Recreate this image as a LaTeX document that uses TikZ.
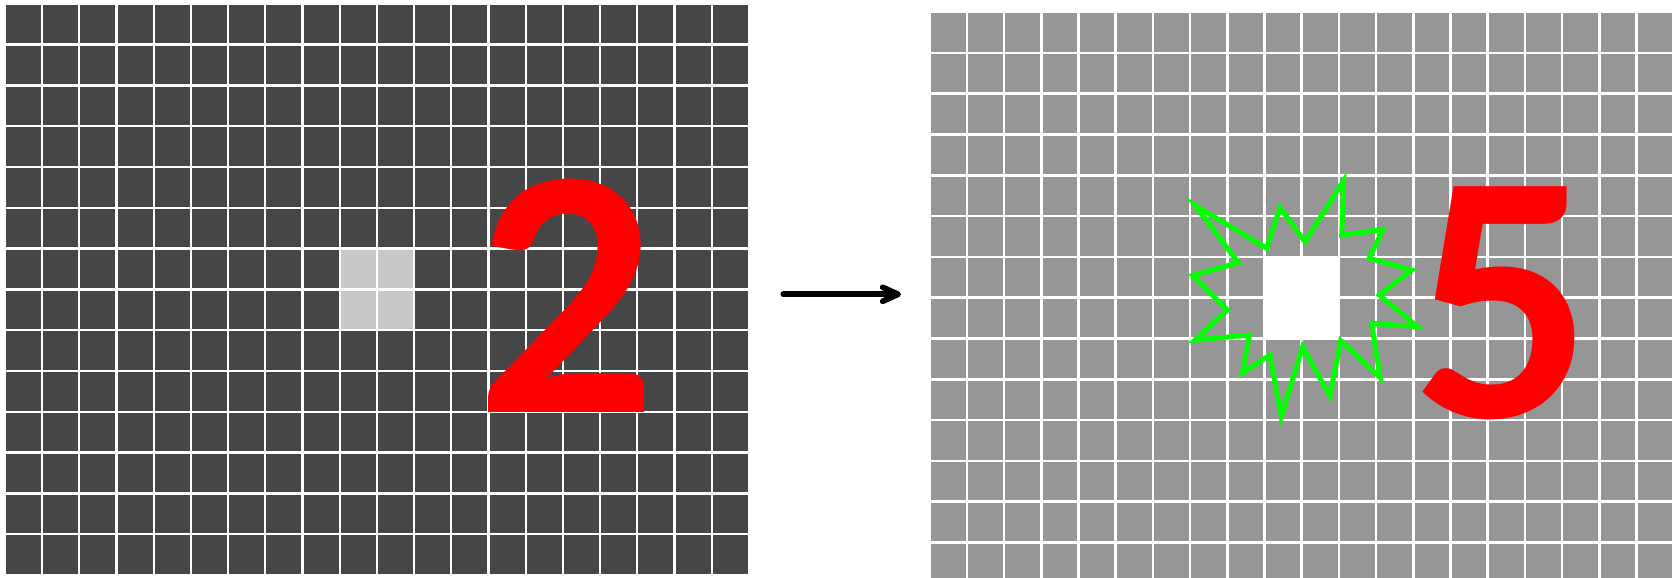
\documentclass[tikz,border=0pt]{standalone}
\usepackage{fontspec}
\setmainfont{Carlito}
\newfontfamily\digitfont{Carlito}[UprightFont={* Bold}]
\usetikzlibrary{arrows.meta}
\definecolor{darkcell}{HTML}{464646}
\definecolor{lightcell}{HTML}{C8C8C8}
\definecolor{midcell}{HTML}{969696}
\definecolor{stargreen}{HTML}{00FF00}
\definecolor{digitred}{HTML}{FF0000}
\begin{document}
\begin{tikzpicture}[x=1pt,y=-1pt,
  darkbox/.style={fill=darkcell},
  lightbox/.style={fill=lightcell},
  midbox/.style={fill=midcell},
  digit/.style={text=digitred, inner sep=0pt, anchor=base,
    font=\digitfont\fontsize{356}{356}\selectfont},
  starline/.style={draw=stargreen, line width=5pt, line join=miter, miter limit=10},
  arrowline/.style={draw=black, line width=5.7pt, line cap=round,
    -{Straight Barb[length=15.5pt, width=14pt, round]}}]
\useasboundingbox (0,0) rectangle (1679,578);
\fill[white] (0,0) rectangle (1679,578);
% left grid
\foreach \i in {0,...,19}{
  \foreach \j in {0,...,13}{
    \fill[darkbox] ({6+37.2*\i},{5+40.8*\j}) rectangle ++(34.9,38.3);
  }
}
\foreach \i in {9,10}{
  \foreach \j in {6,7}{
    \fill[lightbox] ({6+37.2*\i},{5+40.8*\j}) rectangle ++(34.9,38.3);
  }
}
% right grid
\begin{scope}
  \clip (0,0) rectangle (1679,578);
  \foreach \i in {0,...,19}{
    \foreach \j in {0,...,13}{
      \fill[midbox] ({931+37.2*\i},{13.3+40.8*\j}) rectangle ++(34.6,38.3);
    }
  }
\end{scope}
\fill[white] (1263.5,256) rectangle (1339.5,339.5);
% star
\draw[starline] (1195.3,205.6) -- (1266.7,248.3) -- (1280,207.5) -- (1305,241.7)
  -- (1343.7,180.6) -- (1341.7,235) -- (1383,229.5) -- (1369.3,258.3)
  -- (1411.5,270) -- (1379.3,295) -- (1417.2,326.6) -- (1371.7,323.3)
  -- (1380.1,377.7) -- (1340.7,340.7) -- (1329.8,396) -- (1302.7,346.7)
  -- (1281.2,416.4) -- (1270,355) -- (1242.6,372.8) -- (1249.3,335)
  -- (1194.8,340.1) -- (1227.3,310) -- (1192.9,275.4) -- (1238.3,262.7) -- cycle;
% digits
\node[digit] (two) at (567.2,412.7) {2};
\node[digit] (five) at (1502.5,417.3) {5};
% arrow
\coordinate (arrowstart) at (783.3,294.3);
\coordinate (arrowend) at (901,294.3);
\draw[arrowline] (arrowstart) -- (arrowend);
\end{tikzpicture}
\end{document}
